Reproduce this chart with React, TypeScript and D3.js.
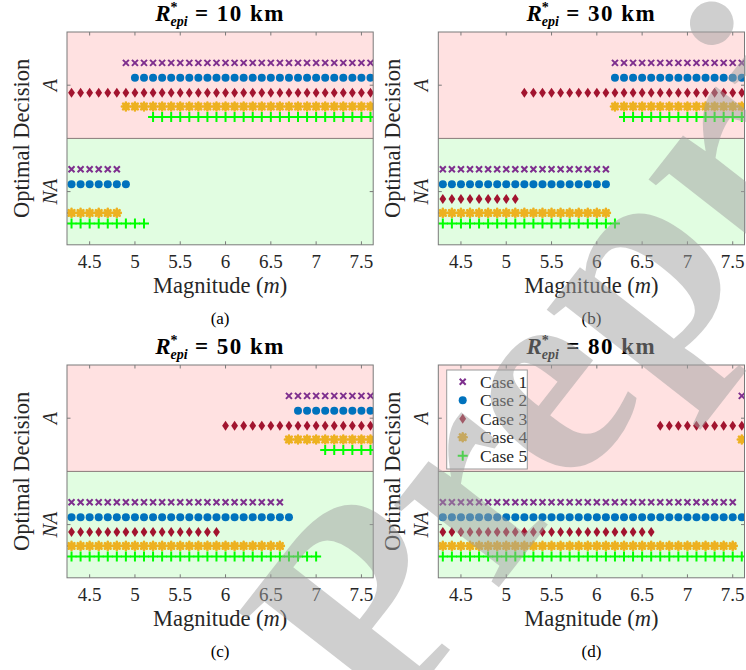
import React from "react";
import * as d3 from "d3";

// Magnitude grid on which the optimal decision was evaluated
const magnitudes = [
  4.3, 4.4, 4.5, 4.6, 4.7, 4.8, 4.9, 5.0, 5.1, 5.2, 5.3, 5.4, 5.5, 5.6, 5.7, 5.8, 5.9,
  6.0, 6.1, 6.2, 6.3, 6.4, 6.5, 6.6, 6.7, 6.8, 6.9, 7.0, 7.1, 7.2, 7.3, 7.4, 7.5, 7.6,
];

const caseNames = ["Case 1", "Case 2", "Case 3", "Case 4", "Case 5"];
const caseColors = ["#7E2F8E", "#0072BD", "#A2142F", "#EDB120", "#00FF00"];
const caseShapes = ["x", "circle", "diamond", "asterisk", "plus"];
// vertical offset of each case around its decision level
const caseOffsets = [0.21, 0.07, -0.07, -0.2, -0.3];

// smallest magnitude at which action (A) becomes optimal, per case (null = never)
const switch10km = [4.9, 5.0, 4.3, 4.9, 5.2];
const switch30km = [6.2, 6.2, 5.2, 6.2, 6.3];
const switch50km = [6.7, 6.8, 6.0, 6.7, 7.1];
const switch80km = [7.6, null, 6.7, 7.6, null];

const distances = [10, 30, 50, 80];
const switches = [switch10km, switch30km, switch50km, switch80km];
const captions = ["(a)", "(b)", "(c)", "(d)"];

const xTicks = [4.5, 5, 5.5, 6, 6.5, 7, 7.5];
const xTickLabels = ["4.5", "5", "5.5", "6", "6.5", "7", "7.5"];
const decisionLevels = [0.5, 1.5];
const decisionLabels = ["NA", "A"];

const W = 746;
const H = 670;
const FONT = "Liberation Serif";

const panelBoxes = [
  { left: 67, top: 32 },
  { left: 438.3, top: 32 },
  { left: 67, top: 365 },
  { left: 438.3, top: 365 },
];
const PW = 306.2;
const PH = 212.8;

function Marker({ shape, x, y, color }: { shape: string; x: number; y: number; color: string }) {
  switch (shape) {
    case "x": {
      const s = 3;
      return (
        <path
          d={`M${x - s},${y - s}L${x + s},${y + s}M${x - s},${y + s}L${x + s},${y - s}`}
          stroke={color}
          strokeWidth={2}
          fill="none"
        />
      );
    }
    case "circle":
      return <circle cx={x} cy={y} r={4} fill={color} />;
    case "diamond": {
      const w = 3.4;
      const h = 5;
      return <path d={`M${x},${y - h}L${x + w},${y}L${x},${y + h}L${x - w},${y}Z`} fill={color} />;
    }
    case "asterisk": {
      const r = 4;
      const d = r * Math.SQRT1_2;
      return (
        <path
          d={`M${x - r},${y}L${x + r},${y}M${x},${y - r}L${x},${y + r}M${x - d},${y - d}L${x + d},${y + d}M${x - d},${y + d}L${x + d},${y - d}`}
          stroke={color}
          strokeWidth={2.6}
          strokeLinecap="round"
          fill="none"
        />
      );
    }
    default: {
      const s = 5;
      return (
        <path
          d={`M${x - s},${y}L${x + s},${y}M${x},${y - s}L${x},${y + s}`}
          stroke={color}
          strokeWidth={2}
          fill="none"
        />
      );
    }
  }
}

function Panel({ idx }: { idx: number }) {
  const { left, top } = panelBoxes[idx];
  const x = d3.scaleLinear().domain([4.25, 7.63]).range([left, left + PW]);
  const y = d3.scaleLinear().domain([0, 2]).range([top + PH, top]);
  const sw = switches[idx];
  const clipId = `clip-${idx}`;
  const axisColor = "#7a7a7a";
  const midY = y(1);

  return (
    <g>
      <defs>
        <clipPath id={clipId}>
          <rect x={left} y={top} width={PW} height={PH} />
        </clipPath>
      </defs>
      {/* decision regions */}
      <rect x={left} y={y(2)} width={PW} height={y(1) - y(2)} fill="#FFE1E1" />
      <rect x={left} y={y(1)} width={PW} height={y(0) - y(1)} fill="#E1FDE1" />
      <line x1={left} x2={left + PW} y1={midY} y2={midY} stroke="#8a7878" strokeWidth={1} />

      {/* ticks on all four sides */}
      {xTicks.map((t) => (
        <g key={`xt${t}`} stroke={axisColor} strokeWidth={1}>
          <line x1={x(t)} x2={x(t)} y1={top} y2={top + 3.5} />
          <line x1={x(t)} x2={x(t)} y1={top + PH} y2={top + PH - 3.5} />
        </g>
      ))}
      {decisionLevels.map((t) => (
        <g key={`yt${t}`} stroke={axisColor} strokeWidth={1}>
          <line x1={left} x2={left + 3.5} y1={y(t)} y2={y(t)} />
          <line x1={left + PW} x2={left + PW - 3.5} y1={y(t)} y2={y(t)} />
        </g>
      ))}

      {/* markers */}
      <g clipPath={`url(#${clipId})`}>
        {caseNames.map((_, c) =>
          magnitudes.map((m) => {
            const s = sw[c];
            const isA = s !== null && m >= s - 1e-9;
            const level = (isA ? 1.5 : 0.5) + caseOffsets[c];
            return (
              <Marker key={`${c}-${m}`} shape={caseShapes[c]} x={x(m)} y={y(level)} color={caseColors[c]} />
            );
          })
        )}
      </g>

      <rect x={left} y={top} width={PW} height={PH} fill="none" stroke={axisColor} strokeWidth={1} />

      {/* tick labels */}
      {xTicks.map((t, i) => (
        <text key={`xl${t}`} x={x(t)} y={top + PH + 23} textAnchor="middle" fontSize={19} fontFamily={FONT} fill="#262626">
          {xTickLabels[i]}
        </text>
      ))}
      {decisionLevels.map((t, i) => (
        <text
          key={`yl${t}`}
          transform={`translate(${left - 10},${y(t)}) rotate(-90)`}
          textAnchor="middle"
          fontSize={20}
          fontStyle="italic"
          fontFamily={FONT}
          fill="#262626"
        >
          {decisionLabels[i]}
        </text>
      ))}

      {/* axis titles */}
      <text x={left + PW / 2} y={top + PH + 48} textAnchor="middle" fontSize={22.5} fontFamily={FONT} fill="#262626">
        Magnitude (<tspan fontStyle="italic">m</tspan>)
      </text>
      <text
        transform={`translate(${left - 38},${top + PH / 2}) rotate(-90)`}
        textAnchor="middle"
        fontSize={22.5}
        fontFamily={FONT}
        fill="#262626"
      >
        Optimal Decision
      </text>

      {/* panel title */}
      <text x={left + PW / 2} y={top - 11} textAnchor="middle" fontSize={23} fontWeight="bold" fontFamily={FONT} fill="#000">
        <tspan fontStyle="italic">R</tspan>
        <tspan fontSize={14} dy={-9}>*</tspan>
        <tspan fontSize={14} fontStyle="italic" dx={-7} dy={14}>epi</tspan>
        <tspan dy={-5} letterSpacing={1.5}>{` = ${distances[idx]} km`}</tspan>
      </text>

      {/* caption */}
      <text x={left + PW / 2} y={top + PH + 79} textAnchor="middle" fontSize={17} fontFamily={FONT} fill="#000">
        {captions[idx]}
      </text>
    </g>
  );
}

function Legend() {
  const lx = 446.7;
  const ly = 370;
  const rowY = (i: number) => ly + 11.7 + i * 18.5;
  return (
    <g>
      <rect x={lx} y={ly} width={80.6} height={99} fill="#fff" stroke="#9a9a9a" strokeWidth={1} />
      {caseNames.map((n, i) => (
        <g key={n}>
          <Marker shape={caseShapes[i]} x={lx + 16} y={rowY(i)} color={caseColors[i]} />
          <text x={lx + 33.3} y={rowY(i) + 6} fontSize={17.5} fontFamily={FONT} fill="#262626">
            {n}
          </text>
        </g>
      ))}
    </g>
  );
}

// Diagonal "Preprint" stamp laid over the whole figure
function Stamp() {
  return (
    <text
      transform="translate(385,733) rotate(-52)"
      fontSize={290}
      fontWeight="bold"
      fontFamily={FONT}
      fill="#a0a0a0"
      fillOpacity={0.5}
    >
      Preprint
    </text>
  );
}

export default function App() {
  return (
    <svg width={W} height={H} style={{ display: "block", position: "absolute", left: 0, top: 0, background: "#fff" }}>
      <rect width={W} height={H} fill="#fff" />
      {panelBoxes.map((_, i) => (
        <Panel key={i} idx={i} />
      ))}
      <Legend />
      <Stamp />
    </svg>
  );
}
